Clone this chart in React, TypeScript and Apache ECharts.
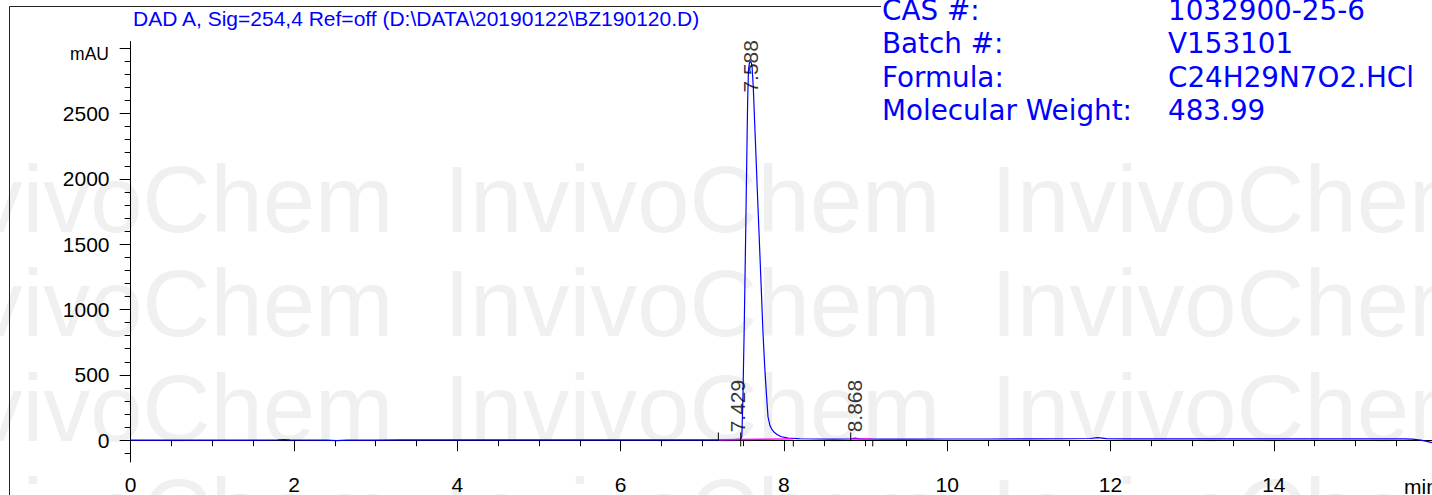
import React, { useEffect, useRef } from 'react';
import * as echarts from 'echarts';

// ---------- data ----------
const times = [
  0, 0.5, 1.0, 1.5, 1.8, 1.87, 1.95, 2.4, 2.52, 2.65, 3.0, 3.3, 3.5, 4.0, 4.5, 5.0, 5.5, 6.0, 6.5, 7.0,
  7.2, 7.4, 7.47, 7.485, 7.497, 7.515, 7.532, 7.545, 7.556, 7.566, 7.577, 7.588, 7.6, 7.61, 7.625, 7.64,
  7.655, 7.675, 7.695, 7.72, 7.744, 7.765, 7.785, 7.805, 7.83, 7.855, 7.885, 7.915, 7.96, 8.05, 8.2, 8.4,
  8.6, 8.8, 8.868, 8.95, 9.2, 9.6, 10.0, 10.5, 11.0, 11.5, 11.75, 11.84, 11.95, 12.2, 12.8, 13.5, 14.2,
  14.8, 15.3, 15.6, 15.7, 15.8, 15.9, 15.95,
];
const signal = [
  0, 0, 1, 1, 2, 5, 2, 1, -3, 1, 1, 3, 2, 2, 2, 3, 3, 3, 3, 3,
  3, 4, 8, 30, 300, 900, 1590, 2150, 2600, 2830, 2885, 2900, 2890, 2860, 2700, 2460,
  2220, 1900, 1590, 1200, 820, 560, 360, 180, 110, 80, 58, 44, 28, 16, 11, 9,
  8, 9, 15, 9, 8, 8, 9, 9, 10, 11, 13, 20, 12, 10, 10, 10, 10,
  10, 10, 10, 8, 1, -13, -22,
];
const peakRT = [7.429, 7.588, 8.868];
const peakLabelLevel = [60, 2660, 60];
const baselineSeg1 = [[7.197, 3], [8.115, 10]];
const baselineSeg2 = [[8.818, 9], [9.088, 8]];
const eventTicks = [
  [7.197, 59, -2],
  [7.471, 59, -48],
  [8.115, 0, -48],
  [8.818, 59, -2],
  [9.088, 0, -48],
];
const xMajorTicks = [0, 2, 4, 6, 8, 10, 12, 14];
const xMinorTicks = [0, 0.5, 1, 1.5, 2, 2.5, 3, 3.5, 4, 4.5, 5, 5.5, 6, 6.5, 7, 7.5, 8, 8.5, 9, 9.5, 10, 10.5, 11, 11.5, 12, 12.5, 13, 13.5, 14, 14.5, 15, 15.5];
const yMajorTicks = [0, 500, 1000, 1500, 2000, 2500, 3000];
const yMinorTicks = [-100, 0, 100, 200, 300, 400, 500, 600, 700, 800, 900, 1000, 1100, 1200, 1300, 1400, 1500, 1600, 1700, 1800, 1900, 2000, 2100, 2200, 2300, 2400, 2500, 2600, 2700, 2800, 2900, 3000];
const yTickLabels = [0, 500, 1000, 1500, 2000, 2500];
const titleText = 'DAD A, Sig=254,4 Ref=off (D:\\DATA\\20190122\\BZ190120.D)';
const infoLabels = ['CAS #:', 'Batch #:', 'Formula:', 'Molecular Weight:'];
const infoValues = ['1032900-25-6', 'V153101', 'C24H29N7O2.HCl', '483.99'];
const watermarkWord = 'InvivoChem';

const X_MIN = -0.039;
const X_MAX = 15.937;
const Y_MIN = -167;
const Y_MAX = 3051;

const FONT = '"Liberation Sans", Arial, sans-serif';
const INFO_FONT = '"DejaVu Sans", Verdana, sans-serif';
const BLUE = '#0000ff';

export default function App() {
  const ref = useRef<HTMLDivElement>(null);

  useEffect(() => {
    if (!ref.current) return;
    const chart = echarts.init(ref.current, undefined, { renderer: 'svg' });

    const lineData = times.map((t, i) => [t, signal[i]]);

    const watermarks: any[] = [];
    const rowMid = [199.4, 303.9, 408.4, 512.9];
    const colX = [-103, 444, 991];
    rowMid.forEach((y) => {
      colX.forEach((x) => {
        watermarks.push({
          type: 'text',
          x,
          y,
          z: -100,
          silent: true,
          style: {
            text: watermarkWord,
            fill: '#f0f0f0',
            font: `94px ${FONT}`,
            align: 'left',
            verticalAlign: 'middle',
          },
        });
      });
    });

    const infoMid = [10, 43.5, 77, 110.5];
    const infoTexts: any[] = [];
    infoLabels.forEach((lab, i) => {
      infoTexts.push({
        type: 'text', x: 882, y: infoMid[i], z: 100, silent: true,
        style: { text: lab, fill: BLUE, font: `27.8px ${INFO_FONT}`, align: 'left', verticalAlign: 'middle' },
      });
      infoTexts.push({
        type: 'text', x: 1168, y: infoMid[i], z: 100, silent: true,
        style: { text: infoValues[i], fill: BLUE, font: `27.8px ${INFO_FONT}`, align: 'left', verticalAlign: 'middle' },
      });
    });

    const plain = (v: number) => String(v);

    const option: any = {
      animation: false,
      backgroundColor: '#ffffff',
      textStyle: { fontFamily: FONT },
      grid: { left: 127.5, right: 0, top: 41.5, bottom: 32.5, containLabel: false },
      xAxis: [
        {
          type: 'value', min: X_MIN, max: X_MAX, position: 'bottom', offset: 0,
          axisLine: { show: true, lineStyle: { color: '#000', width: 1 } },
          axisTick: { show: true, inside: false, length: 11, customValues: xMajorTicks, lineStyle: { color: '#000' } },
          axisLabel: { show: true, customValues: xMajorTicks, formatter: plain, margin: 12, fontSize: 21, color: '#000', fontFamily: FONT },
          splitLine: { show: false },
        },
        {
          type: 'value', min: X_MIN, max: X_MAX, position: 'bottom', offset: 0,
          axisLine: { show: false },
          axisTick: { show: true, inside: false, length: 6, customValues: xMinorTicks, lineStyle: { color: '#000' } },
          axisLabel: { show: false },
          splitLine: { show: false },
        },
      ],
      yAxis: [
        {
          type: 'value', min: Y_MIN, max: Y_MAX, position: 'left', offset: 0,
          axisLine: { show: true, lineStyle: { color: '#000', width: 1 } },
          axisTick: { show: true, inside: false, length: 11, customValues: yMajorTicks, lineStyle: { color: '#000' } },
          axisLabel: { show: true, customValues: yTickLabels, formatter: plain, margin: 18, fontSize: 21, color: '#000', fontFamily: FONT },
          splitLine: { show: false },
        },
        {
          type: 'value', min: Y_MIN, max: Y_MAX, position: 'left', offset: 0,
          axisLine: { show: false },
          axisTick: { show: true, inside: false, length: 6, customValues: yMinorTicks, lineStyle: { color: '#000' } },
          axisLabel: { show: false },
          splitLine: { show: false },
        },
      ],
      series: [
        {
          type: 'line', xAxisIndex: 0, yAxisIndex: 0, data: lineData, showSymbol: false, symbol: 'none',
          lineStyle: { color: BLUE, width: 1.2 }, silent: true, z: 3,
        },
        {
          type: 'line', xAxisIndex: 0, yAxisIndex: 0, data: baselineSeg1, showSymbol: false, symbol: 'none',
          lineStyle: { color: '#ff00ff', width: 1.4 }, silent: true, z: 4,
        },
        {
          type: 'line', xAxisIndex: 0, yAxisIndex: 0, data: baselineSeg2, showSymbol: false, symbol: 'none',
          lineStyle: { color: '#ff00ff', width: 1.4 }, silent: true, z: 4,
        },
        {
          type: 'custom', xAxisIndex: 0, yAxisIndex: 0, data: eventTicks, silent: true, z: 5,
          encode: { x: 0, y: [1, 2] },
          renderItem: (params: any, api: any) => {
            const p1 = api.coord([api.value(0), api.value(1)]);
            const p2 = api.coord([api.value(0), api.value(2)]);
            return {
              type: 'line',
              shape: { x1: p1[0], y1: p1[1], x2: p2[0], y2: p2[1] },
              style: { stroke: '#000', lineWidth: 1 },
            };
          },
        },
        {
          type: 'scatter', xAxisIndex: 0, yAxisIndex: 0, silent: true, z: 6,
          data: peakRT.map((t, i) => [t, peakLabelLevel[i]]),
          symbolSize: 1,
          itemStyle: { color: 'rgba(0,0,0,0)' },
          label: {
            show: true,
            position: [0.5, 0.5],
            rotate: 90,
            align: 'left',
            verticalAlign: 'middle',
            fontSize: 21,
            color: '#000',
            fontFamily: FONT,
            formatter: (p: any) => Number(p.value[0]).toFixed(3),
          },
        },
      ],
      graphic: {
        elements: [
          ...watermarks,
          { type: 'line', z: 50, silent: true, shape: { x1: 9.5, y1: 6.5, x2: 881, y2: 6.5 }, style: { stroke: '#222', lineWidth: 1 } },
          { type: 'line', z: 50, silent: true, shape: { x1: 9.5, y1: 6.5, x2: 9.5, y2: 495 }, style: { stroke: '#222', lineWidth: 1 } },
          {
            type: 'text', x: 133, y: 18.7, z: 100, silent: true,
            style: { text: titleText, fill: BLUE, font: `21px ${FONT}`, align: 'left', verticalAlign: 'middle' },
          },
          {
            type: 'text', x: 109, y: 54, z: 100, silent: true,
            style: { text: 'mAU', fill: '#000', font: `17.5px ${FONT}`, align: 'right', verticalAlign: 'middle' },
          },
          {
            type: 'text', x: 1404, y: 486, z: 100, silent: true,
            style: { text: 'min', fill: '#000', font: `21px ${FONT}`, align: 'left', verticalAlign: 'middle' },
          },
          ...infoTexts,
        ],
      },
    };

    chart.setOption(option);
    return () => {
      chart.dispose();
    };
  }, []);

  return (
    <div
      ref={ref}
      style={{ position: 'fixed', left: 0, top: 0, width: 1432, height: 495, background: '#fff' }}
    />
  );
}
